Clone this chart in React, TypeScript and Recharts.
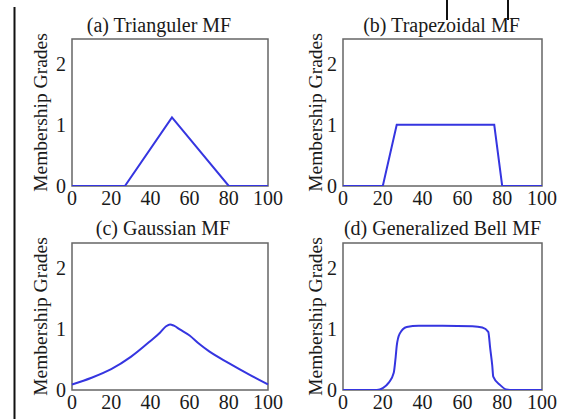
import React from "react";
import { LineChart, Line, XAxis, YAxis, ReferenceArea } from "recharts";

const FONT = "'Liberation Serif', 'Times New Roman', serif";
const BLUE = "#3535e0";

const xTicks = [0, 20, 40, 60, 80, 100];
const yTicks = [0, 1, 2];

// (a) triangular
const triX = [0, 27, 51, 80, 100];
const triY = [0, 0, 1.12, 0, 0];

// (b) trapezoidal
const trapX = [0, 20, 27, 76, 80, 100];
const trapY = [0, 0, 1.0, 1.0, 0, 0];

// (c) gaussian
const gaussX = [0, 10, 20, 30, 40, 45, 48, 50, 52, 55, 60, 65, 70, 80, 90, 100];
const gaussY = [0.09, 0.2, 0.34, 0.54, 0.8, 0.94, 1.04, 1.07, 1.05, 0.99, 0.89, 0.75, 0.63, 0.44, 0.26, 0.09];

// (d) generalized bell
const bellX = [0, 10, 17, 20, 23, 25.5, 26.5, 27, 28.5, 32, 38, 50, 65, 70, 73, 74, 75, 75.5, 79, 82, 85, 100];
const bellY = [0, 0, 0, 0.03, 0.12, 0.28, 0.55, 0.72, 0.92, 1.03, 1.05, 1.05, 1.04, 1.02, 0.95, 0.67, 0.4, 0.22, 0.08, 0.01, 0, 0];

function PanelTitle({ viewBox, text, dx, dy }: any) {
  const cx = viewBox.x + viewBox.width / 2 + dx;
  const y = viewBox.y + dy;
  return (
    <text x={cx} y={y} textAnchor="middle" fill="#1a1a1a" fontSize={20} fontFamily={FONT}>
      {text}
    </text>
  );
}

function YTitle({ viewBox, rel }: any) {
  const cx = viewBox.x + viewBox.width + rel;
  const cy = viewBox.y + viewBox.height / 2;
  return (
    <text
      x={cx}
      y={cy}
      transform={`rotate(-90 ${cx} ${cy})`}
      textAnchor="middle"
      dominantBaseline="central"
      fill="#1a1a1a"
      fontSize={19.5}
      fontFamily={FONT}
    >
      Membership Grades
    </text>
  );
}

function Panel({ left, top, width, title, titleDx, titleDy, xs, ys, curve, labelRel }: any) {
  const data = xs.map((x: number, i: number) => ({ x, y: ys[i] }));
  const tickStyle = { fill: "#1a1a1a", fontSize: 20, fontFamily: FONT };
  return (
    <div style={{ position: "absolute", left, top }}>
      <LineChart width={width + 14} height={210} data={data} margin={{ top: 39, right: 26, left: 42, bottom: 0 }}>
        <XAxis
          dataKey="x"
          type="number"
          domain={[0, 100]}
          ticks={xTicks}
          interval={0}
          tickLine={false}
          axisLine={false}
          tickSize={0}
          tickMargin={5}
          height={24}
          tick={tickStyle}
        />
        <YAxis
          type="number"
          domain={[0, 2.4]}
          ticks={yTicks}
          interval={0}
          allowDataOverflow
          tickLine={false}
          axisLine={false}
          tickSize={0}
          tickMargin={6}
          width={30}
          tick={tickStyle}
          label={<YTitle rel={labelRel} />}
        />
        <ReferenceArea
          x1={0}
          x2={100}
          y1={0}
          y2={2.4}
          fill="none"
          fillOpacity={0}
          stroke="#666"
          strokeWidth={1.5}
          label={<PanelTitle text={title} dx={titleDx} dy={titleDy} />}
        />
        <Line dataKey="y" type={curve} stroke={BLUE} strokeWidth={2} dot={false} isAnimationActive={false} />
      </LineChart>
    </div>
  );
}

export default function App() {
  return (
    <div style={{ position: "absolute", left: 0, top: 0, width: 561, height: 419, background: "#fff", overflow: "hidden" }}>
      <Panel left={0} top={0} width={280} title="(a) Trianguler MF" titleDx={-11} titleDy={-7} xs={triX} ys={triY} curve="linear" labelRel={-32} />
      <Panel left={271} top={0} width={283} title="(b) Trapezoidal MF" titleDx={-1} titleDy={-7} xs={trapX} ys={trapY} curve="linear" labelRel={-28} />
      <Panel left={0} top={204} width={280} title="(c) Gaussian MF" titleDx={-7} titleDy={-8} xs={gaussX} ys={gaussY} curve="monotone" labelRel={-32} />
      <Panel left={271} top={204} width={283} title="(d) Generalized Bell MF" titleDx={0} titleDy={-8} xs={bellX} ys={bellY} curve="monotone" labelRel={-28} />
      <svg width={561} height={419} style={{ position: "absolute", left: 0, top: 0, pointerEvents: "none" }}>
        <line x1={14.5} y1={7} x2={14.5} y2={419} stroke="#111" strokeWidth={2} />
        <line x1={447} y1={0} x2={447} y2={20} stroke="#111" strokeWidth={2} />
        <line x1={508} y1={0} x2={508} y2={20} stroke="#111" strokeWidth={2} />
      </svg>
    </div>
  );
}
